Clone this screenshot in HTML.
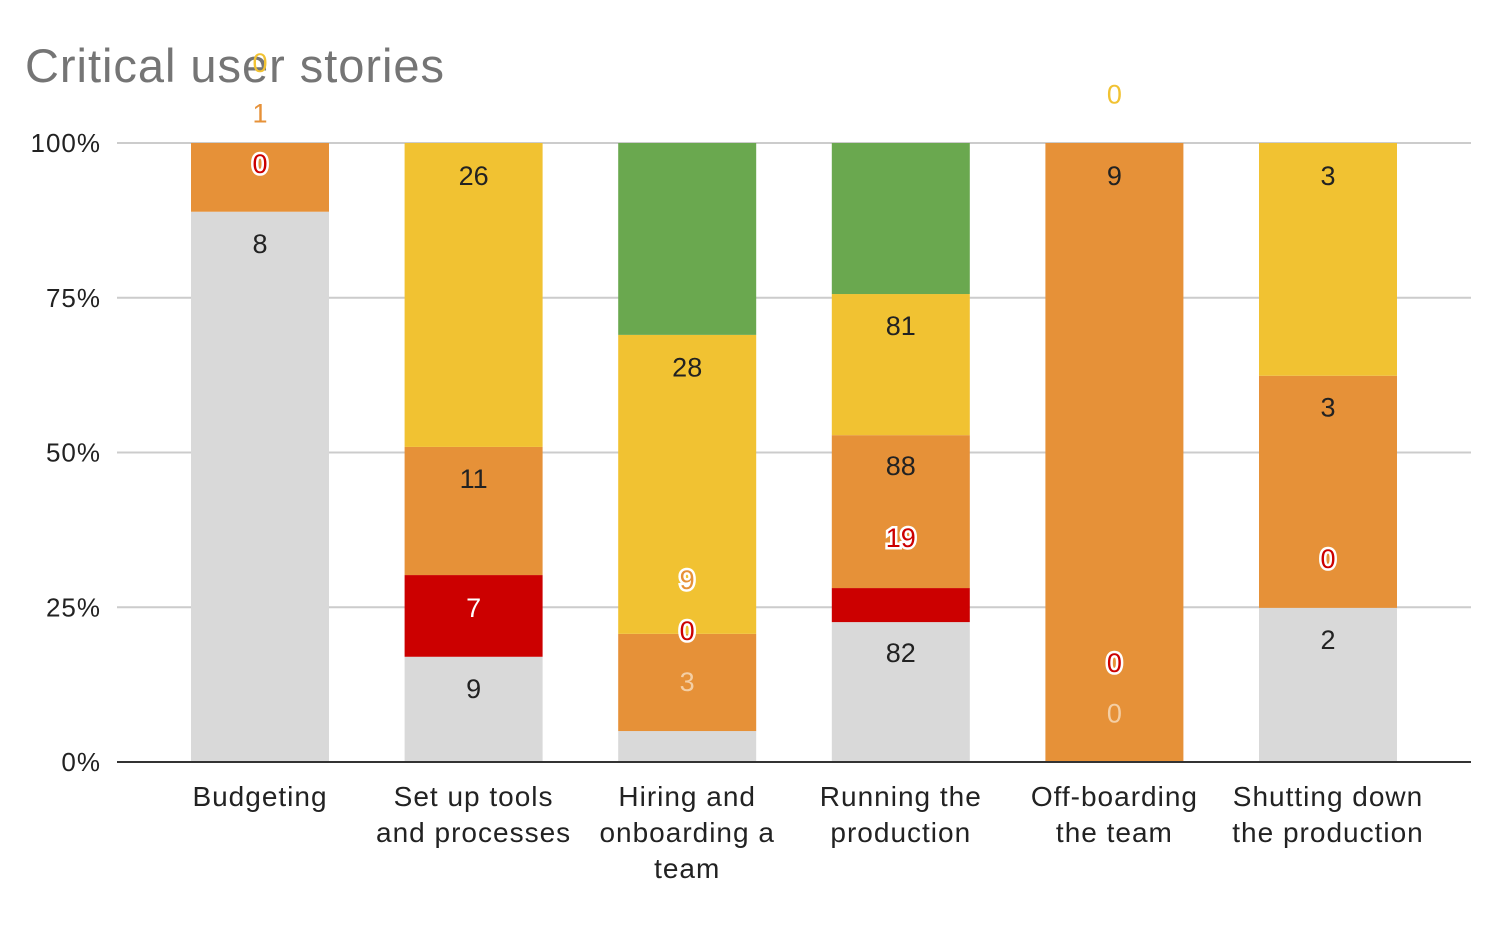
<!DOCTYPE html>
<html><head><meta charset="utf-8"><style>
html,body{margin:0;padding:0;background:#fff;width:1490px;height:928px;overflow:hidden}
svg text{font-family:"Liberation Sans",Arial,sans-serif}
</style></head><body>
<svg id="chart" width="1490" height="928" xmlns="http://www.w3.org/2000/svg">
<text x="25" y="82" font-size="47" fill="#757575" textLength="419" lengthAdjust="spacing">Critical user stories</text>
<g id="grid"></g><g id="bars"></g><g id="labels"></g><g id="axis"></g>
</svg>
<script>
const categories=[["Budgeting"],["Set up tools","and processes"],["Hiring and","onboarding a","team"],["Running the","production"],["Off-boarding","the team"],["Shutting down","the production"]];
const gray=[88.9,17,5,22.6,0,24.9];
const red=[0,13.2,0,5.5,0,0];
const orange=[11.1,20.7,15.7,24.7,100,37.5];
const yellow=[0,49.1,48.3,22.8,0,37.6];
const green=[0,0,31,24.4,0,0];
const yTicks=[0,25,50,75,100];
// printed labels: text, category index, position (percent), style
const labelText=["8","0","1","0","9","7","11","26","3","0","9","28","82","19","88","81","0","0","9","0","2","0","3","3"];
const labelCat=[0,0,0,0,1,1,1,1,2,2,2,2,3,3,3,3,4,4,4,4,5,5,5,5];
const labelPos=[83.7,96.6,104.8,112.9,11.8,24.9,45.7,94.7,12.9,21.2,29.4,63.7,17.6,36.2,47.8,70.4,7.8,16.0,94.7,107.8,19.7,32.8,57.3,94.7];
const labelStyle=["d","r","o","y","d","w","d","d","l","r","h","d","d","r","d","d","l","r","d","y","d","r","d","d"];
const series=[["gray",gray,"#d9d9d9"],["red",red,"#cc0000"],["orange",orange,"#e69138"],["yellow",yellow,"#f1c232"],["green",green,"#6aa84f"]];
const NS="http://www.w3.org/2000/svg";
const y0=762,y100=143,left=117,right=1471;
function yScale(v){return y0-(y0-y100)*v/100;}
function xScale(i){return 260+i*213.6;}
const bw=138;
const grid=document.getElementById('grid'),bars=document.getElementById('bars'),labels=document.getElementById('labels'),axis=document.getElementById('axis');
yTicks.forEach(t=>{
 const l=document.createElementNS(NS,'line');
 
 
 l.setAttribute('x1',left);l.setAttribute('x2',right);l.setAttribute('y1',yScale(t));l.setAttribute('y2',yScale(t));
 l.setAttribute('stroke',t===0?'#333':'#ccc');l.setAttribute('stroke-width',2);
 (t===0?axis:grid).appendChild(l);
 const tx=document.createElementNS(NS,'text');
 
 
 tx.setAttribute('x',101);tx.setAttribute('y',yScale(t)+9);tx.setAttribute('text-anchor','end');tx.setAttribute('font-size','26');tx.setAttribute('letter-spacing','1');tx.setAttribute('fill','#222');
 tx.textContent=t+'%';axis.appendChild(tx);
});
categories.forEach((c,i)=>{
 let acc=0;
 series.forEach(s=>{
  const v=s[1][i];
  if(v>0){
   const r=document.createElementNS(NS,'rect');
   
   
   r.setAttribute('x',xScale(i)-bw/2);r.setAttribute('width',bw);
   r.setAttribute('y',yScale(acc+v));r.setAttribute('height',yScale(acc)-yScale(acc+v));
   r.setAttribute('fill',s[2]);bars.appendChild(r);
  }
  acc+=v;
 });
 c.forEach((line,k)=>{
  const tx=document.createElementNS(NS,'text');
  
  
  tx.setAttribute('x',xScale(i));tx.setAttribute('y',806+k*36);tx.setAttribute('text-anchor','middle');tx.setAttribute('font-size','28');tx.setAttribute('letter-spacing','1');tx.setAttribute('fill','#222');
  tx.textContent=line;axis.appendChild(tx);
 });
});
const styles={d:['#222',null],r:['#cc0000','#fff'],o:['#e69138',null],y:['#f1c232',null],w:['#fff',null],l:['#f4cfa5',null],h:['#e69138','#fff']};
labelText.forEach((t,j)=>{
 const st=styles[labelStyle[j]];
 const tx=document.createElementNS(NS,'text');
 
 
 tx.setAttribute('x',xScale(labelCat[j]));tx.setAttribute('y',yScale(labelPos[j])+9);
 tx.setAttribute('text-anchor','middle');tx.setAttribute('font-size','27');tx.setAttribute('fill',st[0]);
 if(st[1]){tx.setAttribute('stroke',st[1]);tx.setAttribute('stroke-width','5');tx.setAttribute('paint-order','stroke');}
 tx.textContent=t;labels.appendChild(tx);
});
</script>
</body></html>
